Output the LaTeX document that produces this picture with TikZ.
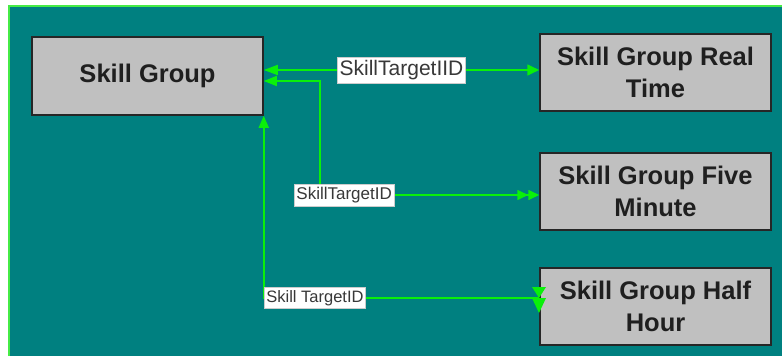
\documentclass[tikz,border=0pt]{standalone}
\usepackage{fontspec}
\setmainfont{Liberation Sans}
\usetikzlibrary{arrows.meta,calc}
\definecolor{bgteal}{RGB}{0,128,128}
\definecolor{lgreen}{RGB}{10,240,10}
\definecolor{frameg}{RGB}{70,235,70}
\definecolor{boxgray}{RGB}{192,192,192}
\begin{document}
\begin{tikzpicture}[x=1pt,y=-1pt,
  entity/.style={draw=black!85,line width=1.5pt,fill=boxgray,minimum width=231pt,minimum height=77pt,inner sep=0pt,align=center,font=\bfseries\fontsize{25.5}{32}\selectfont,text=black!88},
  conn/.style={draw=lgreen,line width=1.6pt},
  lab/.style={fill=white,draw=gray!40,line width=0.4pt,text=black!78,inner xsep=2pt,inner ysep=3pt}]
\useasboundingbox (0,0) rectangle (782,356);
% background frame
\fill[bgteal] (9,6) rectangle (782,356);
\draw[frameg,line width=2pt] (9,356) -- (9,6) -- (782,6);
% entities
\node[entity,minimum height=78pt] (sg) at (147.5,76) {Skill Group};
\node[entity] (rt) at (655.5,72.5) {Skill Group Real\\Time};
\node[entity] (fm) at (655.5,191.5) {Skill Group Five\\Minute};
\node[entity] (hh) at (655.5,306.5) {Skill Group Half\\Hour};
% connector 1
\draw[conn,{Triangle[length=14pt,width=10pt]}-{Triangle[length=12pt,width=11pt]}]
  ($(sg.east)+(0,-6)$) -- node[lab,font=\fontsize{21}{24}\selectfont]{SkillTargetIID} ($(rt.west)+(0,-2.5)$);
% connector 2
\coordinate (c2) at (320,195);
\draw[conn,{Triangle[length=11pt,width=10pt]Triangle[length=11pt,width=10pt]}-{Triangle[length=13pt,width=10pt]}]
  ($(fm.west)+(0,3.5)$) -- node[lab,pos=0.89,font=\fontsize{17}{20}\selectfont]{SkillTargetID} (c2) |- ($(sg.east)+(0,5)$);
% connector 3
\coordinate (c3) at (sg.south east |- 0,298);
\draw[conn,-{Triangle[length=12pt,width=10pt]}]
  ($(hh.west)+(0,-8.5)$) -- node[lab,pos=0.814,font=\fontsize{16.5}{19}\selectfont]{Skill TargetID} (c3) -- (sg.south east);
\fill[lgreen] (532,287) -- (546,287) -- (539,298) -- cycle;
\fill[lgreen] (532,298) -- (546,298) -- (539,313) -- cycle;
\end{tikzpicture}
\end{document}
